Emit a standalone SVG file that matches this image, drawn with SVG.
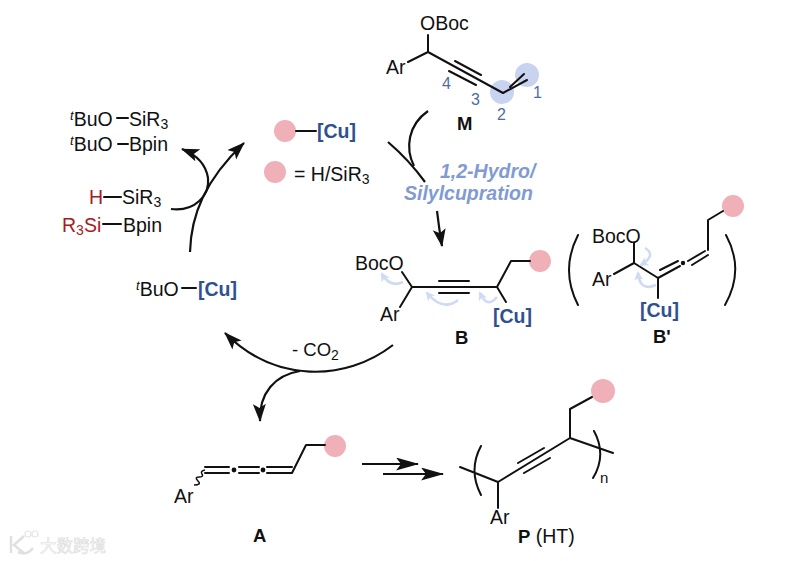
<svg xmlns="http://www.w3.org/2000/svg" width="810" height="561" viewBox="0 0 810 561">
<style>
text{font-family:"Liberation Sans",Arial,sans-serif;font-size:19.5px;fill:#111}
.b{font-weight:bold;font-size:18.5px}
.cu{font-weight:bold;fill:#2f5191}
.red{fill:#a51c20}
.num{font-size:16px;fill:#4f6b9f}
.lab{font-size:19.5px;font-weight:bold;font-style:italic;fill:#7f9bd2}
.sup{font-size:13px;font-style:italic}
.sub{font-size:14px}
.bd{fill:none;stroke:#111;stroke-width:2;stroke-linecap:round;stroke-linejoin:round}
.ar{fill:none;stroke:#111;stroke-width:2.2}
.cur{fill:none;stroke:#cfdaf4;stroke-width:2.6;marker-end:url(#lh)}
.pk{fill:#efb0b8}
.bl{fill:#c7d3f0}
</style>
<defs>
<marker id="h" markerUnits="userSpaceOnUse" markerWidth="20" markerHeight="14" refX="17" refY="6.5" orient="auto"><path d="M0,0 L18,6.5 L0,13 L4,6.5Z" fill="#111"/></marker>
<marker id="h2" markerUnits="userSpaceOnUse" markerWidth="24" markerHeight="14" refX="22" refY="6.5" orient="auto"><path d="M0,0 L23,6.5 L0,13 L5,6.5Z" fill="#111"/></marker>
<marker id="lh" markerUnits="userSpaceOnUse" markerWidth="10" markerHeight="10" refX="7" refY="4.5" orient="auto"><path d="M0,0 L9,4.5 L0,9 L2,4.5Z" fill="#cfdaf4"/></marker>
</defs>
<rect width="810" height="561" fill="#fff"/>
<g id="connectors">
<path class="ar" d="M388,142 Q409,160 425,182"/>
<path class="ar" d="M428,111 C408,125 405,148 414,166"/>
<path class="ar" marker-end="url(#h)" d="M437,211 Q439,228 442,246"/>
<path class="ar" marker-end="url(#h)" d="M190,252 C191,215 205,180 244,143"/>
<path class="ar" marker-end="url(#h)" d="M171,209 C195,212 210,195 208,178 C206,165 197,155 182,149"/>
<path class="ar" marker-end="url(#h)" d="M393,345 C345,382 275,383 225,333"/>
<path class="ar" marker-end="url(#h)" d="M300,371 C275,375 259,393 260,421"/>
<path class="ar" marker-end="url(#h2)" d="M362,464 H418"/>
<path class="ar" marker-end="url(#h2)" d="M383,474 H443"/>
</g>
<g id="node-M">
<circle class="bl" cx="502" cy="92" r="12"/><circle class="bl" cx="527" cy="75" r="12"/>
<path class="bd" d="M428,35V52L408,62M428,52L503,93L527,80M455,61L481,75M449,71L476,85M510,87L524,74"/>
<text x="420" y="30">OBoc</text><text x="386" y="74">Ar</text>
<text class="num" x="442" y="89">4</text><text class="num" x="471" y="105">3</text><text class="num" x="497" y="120">2</text><text class="num" x="533" y="98">1</text>
<text class="b" x="457" y="130">M</text>
</g>
<g id="label-hydro">
<text class="lab" x="440" y="178">1,2-Hydro/</text><text class="lab" x="404" y="200">Silylcupration</text>
</g>
<g id="node-Cu">
<circle class="pk" cx="285" cy="131" r="11"/><path class="bd" d="M296,131H316"/>
<text class="cu" x="317" y="138">[Cu]</text>
<circle class="pk" cx="275" cy="172" r="11"/>
<text x="294" y="181">= H/SiR<tspan dy="3" class="sub">3</tspan></text>
</g>
<g id="node-byproducts">
<text x="70" y="126"><tspan dy="-6" class="sup">t</tspan><tspan dy="6">BuO</tspan></text><path class="bd" d="M117,118H128"/><text x="129" y="126">SiR<tspan dy="3" class="sub">3</tspan></text>
<text x="70" y="151"><tspan dy="-6" class="sup">t</tspan><tspan dy="6">BuO</tspan></text><path class="bd" d="M118,144H128"/><text x="129" y="151">Bpin</text>
</g>
<g id="node-reagents">
<text class="red" x="89" y="204">H</text><path class="bd" d="M104,197H121"/><text x="122" y="204">SiR<tspan dy="3" class="sub">3</tspan></text>
<text class="red" x="62" y="232">R<tspan dy="3" class="red sub">3</tspan><tspan dy="-3" class="red">Si</tspan></text><path class="bd" d="M103,224H121"/><text x="123" y="232">Bpin</text>
</g>
<g id="node-tBuOCu">
<text x="136" y="296"><tspan dy="-6" class="sup">t</tspan><tspan dy="6">BuO</tspan></text><path class="bd" d="M182,288H196"/><text class="cu" x="198" y="296">[Cu]</text>
</g>
<g id="node-B">
<circle class="pk" cx="540" cy="261" r="11"/>
<path class="bd" d="M402,272L412,287L400,307M412,287H497L506,302M439,281H469M439,293H469M497,287L511,261H530"/>
<path class="cur" d="M403,282Q390,288 382,274"/><path class="cur" d="M458,300Q443,312 427,293"/><path class="cur" d="M497,297Q487,309 480,293"/>
<text x="355" y="270">BocO</text><text x="380" y="321">Ar</text><text class="cu" x="493" y="323">[Cu]</text><text class="b" x="455" y="344">B</text>
</g>
<g id="node-Bprime">
<path class="bd" d="M578,235Q560,270 578,305M726,235Q745,270 725,305"/>
<circle class="pk" cx="733" cy="206" r="11"/>
<path class="bd" d="M634,243V263L614,274M634,263L658,278V298M658,278L680,266M660,270L678,261M688,261L705,251M692,265L708,255M708,250V220L723,211"/>
<circle cx="683" cy="263" r="2.2" fill="#111"/>
<path class="cur" d="M645,248Q657,255 641,265"/><path class="cur" d="M656,285Q640,292 638,273"/>
<text x="592" y="243">BocO</text><text x="592" y="286">Ar</text><text class="cu" x="640" y="317">[Cu]</text><text class="b" x="653" y="343">B'</text>
</g>
<text x="292" y="356" style="font-size:18.5px">- CO<tspan dy="4" class="sub">2</tspan></text>
<g id="node-A">
<circle class="pk" cx="335" cy="446" r="11"/>
<path class="bd" d="M205,467H229M205,473H229M239,467H259M239,473H259M267,467H292M267,473H292L306,445H325"/>
<circle cx="234" cy="470" r="2.4" fill="#111"/><circle cx="263" cy="470" r="2.4" fill="#111"/>
<path d="M205,470q-5,1 -3,4t-3,3t-1,4t-4,4" fill="none" stroke="#111" stroke-width="1.5"/>
<text x="174" y="503">Ar</text><text class="b" x="253" y="542">A</text>
</g>
<g id="node-P">
<circle class="pk" cx="603" cy="391" r="12"/>
<path class="bd" d="M460,467L498,482L570,438L613,453M518,463L544,448M524,473L550,458M570,438V409L592,397M498,482V508M481,446Q468,470 481,495M594,431Q607,455 593,478"/>
<text x="490" y="524">Ar</text><text x="600" y="483" style="font-size:15px">n</text>
<text x="518" y="543"><tspan class="b">P</tspan> (HT)</text>
</g>
<g id="watermark" opacity="0.75">
<path d="M11,536V553M24,536L14,545L25,554M33,548Q27,556 18,552" fill="none" stroke="#d6d6d6" stroke-width="2.5"/>
<circle cx="28" cy="534" r="3" fill="none" stroke="#ddd" stroke-width="1.2"/><circle cx="35" cy="534" r="3" fill="none" stroke="#ddd" stroke-width="1.2"/>
<text x="40" y="552" style="font-family:'Noto Sans CJK SC',sans-serif;font-size:16.5px;fill:#fff;stroke:#cfcfcf;stroke-width:0.6">大数跨境</text>
</g>
</svg>
